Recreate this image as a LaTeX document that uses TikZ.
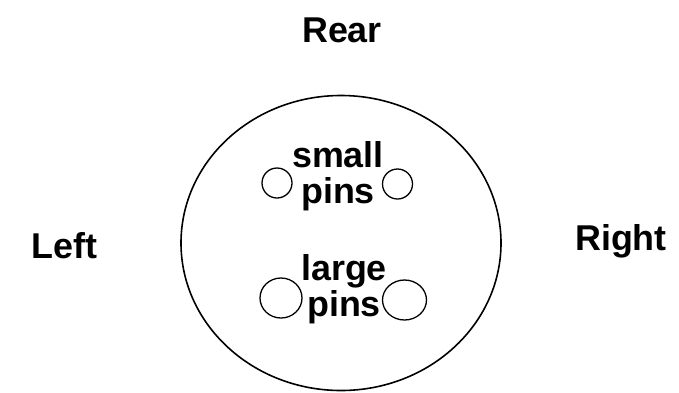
\documentclass[tikz,border=0pt]{standalone}
\usepackage{fontspec}
\setmainfont{Liberation Sans}
\usetikzlibrary{shapes.geometric}

\begin{document}
\begin{tikzpicture}[
x=1bp, y=-1bp,
lbl/.style={font=\fontsize{36}{36}\selectfont\bfseries, inner sep=0pt, align=center},
rim/.style={draw, ellipse, line width=1.6pt, minimum width=320bp, minimum height=295bp, inner sep=0pt},
pin/.style={draw, ellipse, line width=1.3pt, inner sep=0pt} ]

\useasboundingbox (0,0) rectangle (679,392);

\node[rim] (B) at (341,243) {};

\node[lbl, anchor=base] (Rear) at (342,42) {Rear};

\node[lbl, anchor=base] (Left) at (64.5,258) {Left};

\node[lbl, anchor=base] (Right) at (621,250) {Right};

\node[lbl] (S) at (338,176) {small\\pins};

\node[lbl] (G) at (344,289) {large\\pins};


\node[pin, minimum width=30bp, minimum height=30bp] (S1) at (277,183) {};

\node[pin, minimum width=30bp, minimum height=30bp] (S2) at (397.5,184) {};

\node[pin, minimum width=42bp, minimum height=40bp] (G1) at (281,298) {};

\node[pin, minimum width=44bp, minimum height=40bp] (G2) at (404.5,300) {};

\end{tikzpicture}
\end{document}
